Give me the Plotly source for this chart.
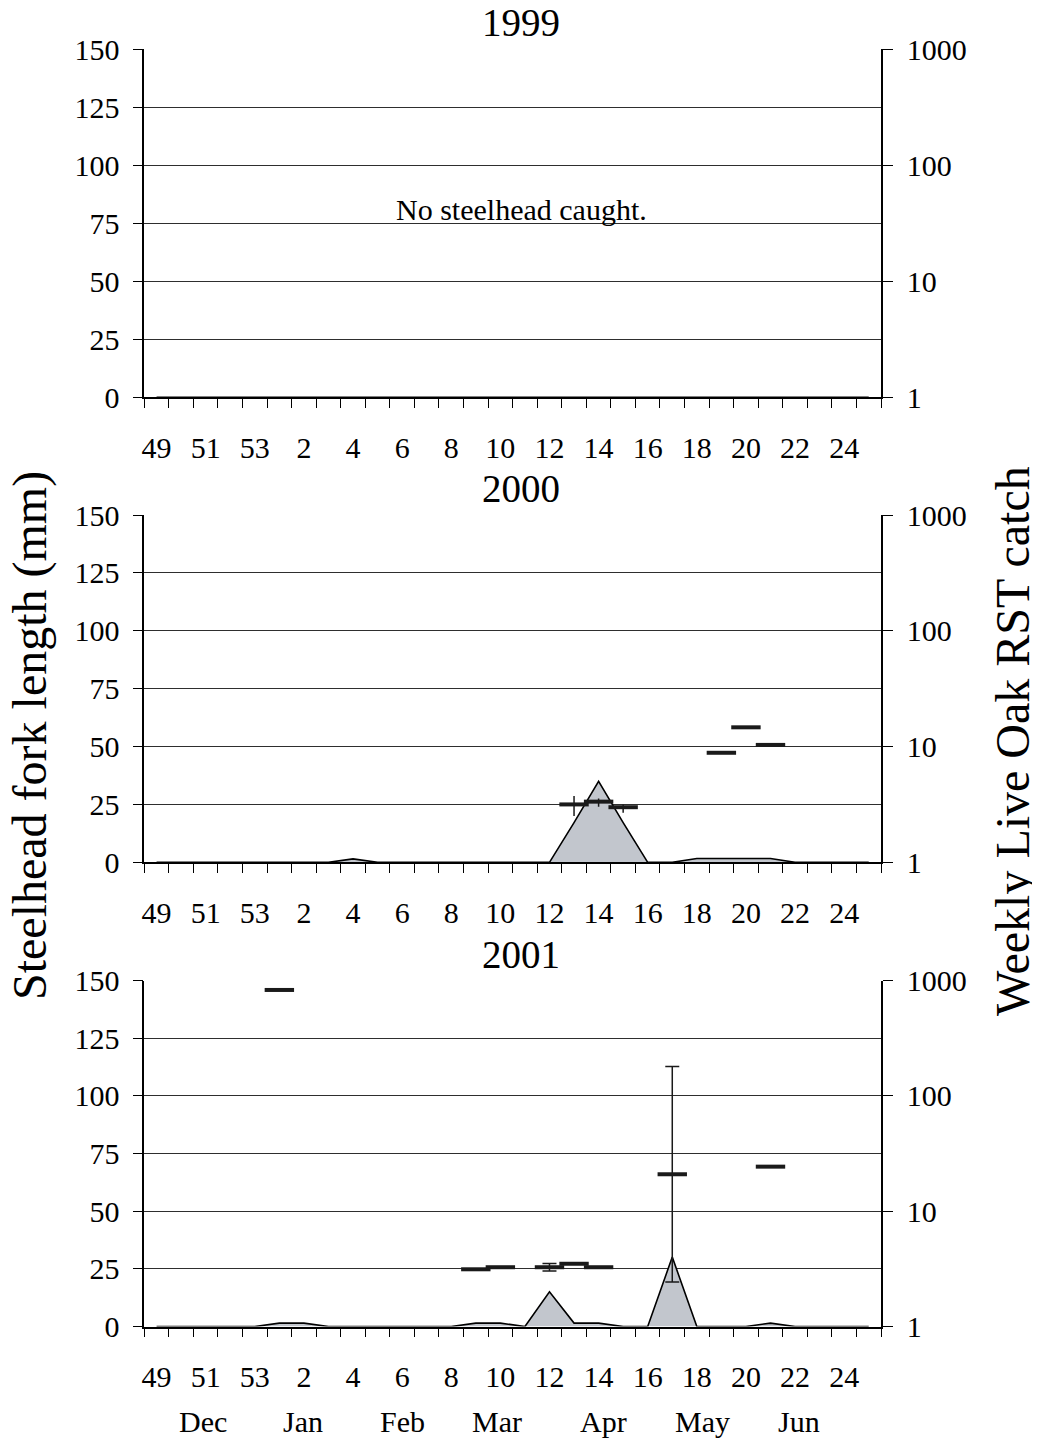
import plotly.graph_objects as go

# ---------------- data ----------------
weeks = ["49", "50", "51", "52", "53", "1", "2", "3", "4", "5", "6", "7", "8", "9", "10",
         "11", "12", "13", "14", "15", "16", "17", "18", "19", "20", "21", "22", "23", "24", "25"]
week_tick_labels = ["49", "51", "53", "2", "4", "6", "8", "10", "12", "14", "16", "18", "20", "22", "24"]

months = ["Dec", "Jan", "Feb", "Mar", "Apr", "May", "Jun"]
month_pos = [1.87, 5.96, 10.02, 13.85, 18.18, 22.24, 26.17]   # in week-index units

years = ["1999", "2000", "2001"]

# weekly Live Oak RST catch (log axis, 1 = none)
catch_floor = [1, 1, 1, 1, 1, 1, 1, 1, 1, 1, 1, 1, 1, 1, 1,
               1, 1, 1, 1, 1, 1, 1, 1, 1, 1, 1, 1, 1, 1, 1]
catch_1999 = [1, 1, 1, 1, 1, 1, 1, 1, 1, 1, 1, 1, 1, 1, 1,
              1, 1, 1, 1, 1, 1, 1, 1, 1, 1, 1, 1, 1, 1, 1]
catch_2000 = [1, 1, 1, 1, 1, 1, 1, 1, 1.07, 1, 1, 1, 1, 1, 1,
              1, 1, 2.2, 5, 2.2, 1, 1, 1.08, 1.08, 1.08, 1.08, 1, 1, 1, 1]
catch_2001 = [1, 1, 1, 1, 1, 1.07, 1.07, 1, 1, 1, 1, 1, 1, 1.07, 1.07,
              1, 2, 1.07, 1.07, 1, 1, 4, 1, 1, 1, 1.07, 1, 1, 1, 1]

# steelhead fork length (mm): weekly mean with error bars
fl_1999_weeks = []
fl_1999_mean = []
fl_1999_plus = []
fl_1999_minus = []

fl_2000_weeks = ["13", "14", "15", "19", "20", "21"]
fl_2000_mean = [25.0, 26.2, 23.8, 47.3, 58.3, 50.7]
fl_2000_plus = [3.6, 1.4, 1.2, 0, 0, 0]
fl_2000_minus = [5.0, 2.2, 2.4, 0, 0, 0]

fl_2001_weeks = ["1", "9", "10", "12", "13", "14", "17", "21"]
fl_2001_mean = [145.9, 24.8, 25.7, 25.7, 27.2, 25.7, 66.0, 69.3]
fl_2001_plus = [0, 0, 0, 1.6, 0, 0, 46.7, 0]
fl_2001_minus = [0, 0, 0, 1.6, 0, 0, 46.7, 0]

catches = [catch_1999, catch_2000, catch_2001]
fl_weeks = [fl_1999_weeks, fl_2000_weeks, fl_2001_weeks]
fl_means = [fl_1999_mean, fl_2000_mean, fl_2001_mean]
fl_plus = [fl_1999_plus, fl_2000_plus, fl_2001_plus]
fl_minus = [fl_1999_minus, fl_2000_minus, fl_2001_minus]
cap_widths = [0, 0, 7]

# ---------------- layout geometry (screen pixels; page body has an 8px margin) ----------------
OFF = 8
W, H = 1032, 1432


def sx(px):
    return (px - OFF) / W


def sy(py):
    return 1 - (py - OFF) / H


X0, X1 = 144.3, 881.0
panels = [(49.3, 397.3), (515.0, 862.3), (980.5, 1326.5)]
FONT = "Liberation Serif"
TICK_FS = 30

idx = list(range(len(weeks)))
tickvals = [weeks.index(w) for w in week_tick_labels]

fig = go.Figure()
layout = dict(
    width=W, height=H,
    margin=dict(l=0, r=0, t=0, b=0, autoexpand=False),
    paper_bgcolor="white", plot_bgcolor="white",
    showlegend=False,
    font=dict(family=FONT, color="black", size=TICK_FS),
)
annotations = []

for r, (top, bot) in enumerate(panels, start=1):
    xa = "xaxis" if r == 1 else f"xaxis{r}"
    xr = "x" if r == 1 else f"x{r}"
    ca, fa = 2 * r - 1, 2 * r
    ca_name = "yaxis" if ca == 1 else f"yaxis{ca}"
    ca_ref = "y" if ca == 1 else f"y{ca}"
    fa_name, fa_ref = f"yaxis{fa}", f"y{fa}"

    layout[xa] = dict(
        domain=[sx(X0), sx(X1)], anchor=ca_ref, automargin=False,
        range=[-0.5, len(weeks) - 0.5],
        tickmode="array", tickvals=tickvals, ticktext=week_tick_labels,
        ticks="outside", ticklen=23, tickcolor="rgba(0,0,0,0)",
        tickfont=dict(size=TICK_FS, family=FONT, color="black"),
        showline=True, linecolor="black", linewidth=1.5,
        showgrid=False, zeroline=False,
        minor=dict(tickmode="array", tickvals=[i - 0.5 for i in range(len(weeks) + 1)],
                   ticks="outside", ticklen=9, tickcolor="black", tickwidth=1.2,
                   showgrid=False),
    )
    layout[ca_name] = dict(
        domain=[sy(bot), sy(top)], anchor=xr, side="right", automargin=False,
        type="log", range=[0, 3],
        tickmode="array", tickvals=[1, 10, 100, 1000], ticktext=["1", "10", "100", "1000"],
        ticks="outside", ticklen=10, tickcolor="black", tickwidth=1.2,
        tickfont=dict(size=TICK_FS, family=FONT, color="black"),
        ticklabelstandoff=8,
        showline=True, linecolor="black", linewidth=1.5,
        showgrid=False, zeroline=False,
    )
    layout[fa_name] = dict(
        overlaying=ca_ref, anchor=xr, side="left", automargin=False,
        range=[0, 150],
        tickmode="array", tickvals=[0, 25, 50, 75, 100, 125, 150],
        ticks="outside", ticklen=10, tickcolor="black", tickwidth=1.2,
        tickfont=dict(size=TICK_FS, family=FONT, color="black"),
        ticklabelstandoff=7,
        showline=True, linecolor="black", linewidth=1.5,
        showgrid=True, gridcolor="#2e2e2e", gridwidth=1.3, zeroline=False,
    )

    c = catches[r - 1]
    fig.add_trace(go.Scatter(x=idx, y=catch_floor, xaxis=xr, yaxis=ca_ref, mode="lines",
                             line=dict(width=0, color="black"), hoverinfo="skip"))
    fig.add_trace(go.Scatter(x=idx, y=c, xaxis=xr, yaxis=ca_ref, mode="lines",
                             fill="tonexty", fillcolor="#c2c6cd",
                             line=dict(color="black", width=1.6)))

    fx = [weeks.index(w) for w in fl_weeks[r - 1]]
    fig.add_trace(go.Scatter(
        x=fx, y=fl_means[r - 1], xaxis=xr, yaxis=fa_ref, mode="markers",
        marker=dict(symbol="line-ew", size=21, color="#1a1a1a",
                    line=dict(color="#1a1a1a", width=4)),
        error_y=dict(type="data", symmetric=False, array=fl_plus[r - 1],
                     arrayminus=fl_minus[r - 1], color="#1a1a1a", thickness=1.5,
                     width=cap_widths[r - 1]),
        cliponaxis=False,
    ))

    # panel title
    annotations.append(dict(text=years[r - 1], xref="paper", yref="paper",
                            x=sx(521), y=sy(top - 26.3), showarrow=False,
                            xanchor="center", yanchor="middle",
                            font=dict(size=39, family=FONT, color="black")))

annotations.append(dict(text="No steelhead caught.", xref="paper", yref="paper",
                        x=sx(521), y=sy(209), showarrow=False,
                        xanchor="center", yanchor="middle",
                        font=dict(size=30, family=FONT, color="black")))

for m, p in zip(months, month_pos):
    annotations.append(dict(text=m, xref="x3", yref="paper", x=p, y=sy(1421),
                            showarrow=False, xanchor="center", yanchor="middle",
                            font=dict(size=TICK_FS, family=FONT, color="black")))

annotations.append(dict(text="Steelhead fork length (mm)", xref="paper", yref="paper",
                        x=sx(30), y=sy(736), showarrow=False, textangle=-90,
                        xanchor="center", yanchor="middle",
                        font=dict(size=48, family=FONT, color="black")))
annotations.append(dict(text="Weekly Live Oak RST catch", xref="paper", yref="paper",
                        x=sx(1012), y=sy(741), showarrow=False, textangle=-90,
                        xanchor="center", yanchor="middle",
                        font=dict(size=48, family=FONT, color="black")))

layout["annotations"] = annotations
fig.update_layout(**layout)
fig.write_html("out.html")
